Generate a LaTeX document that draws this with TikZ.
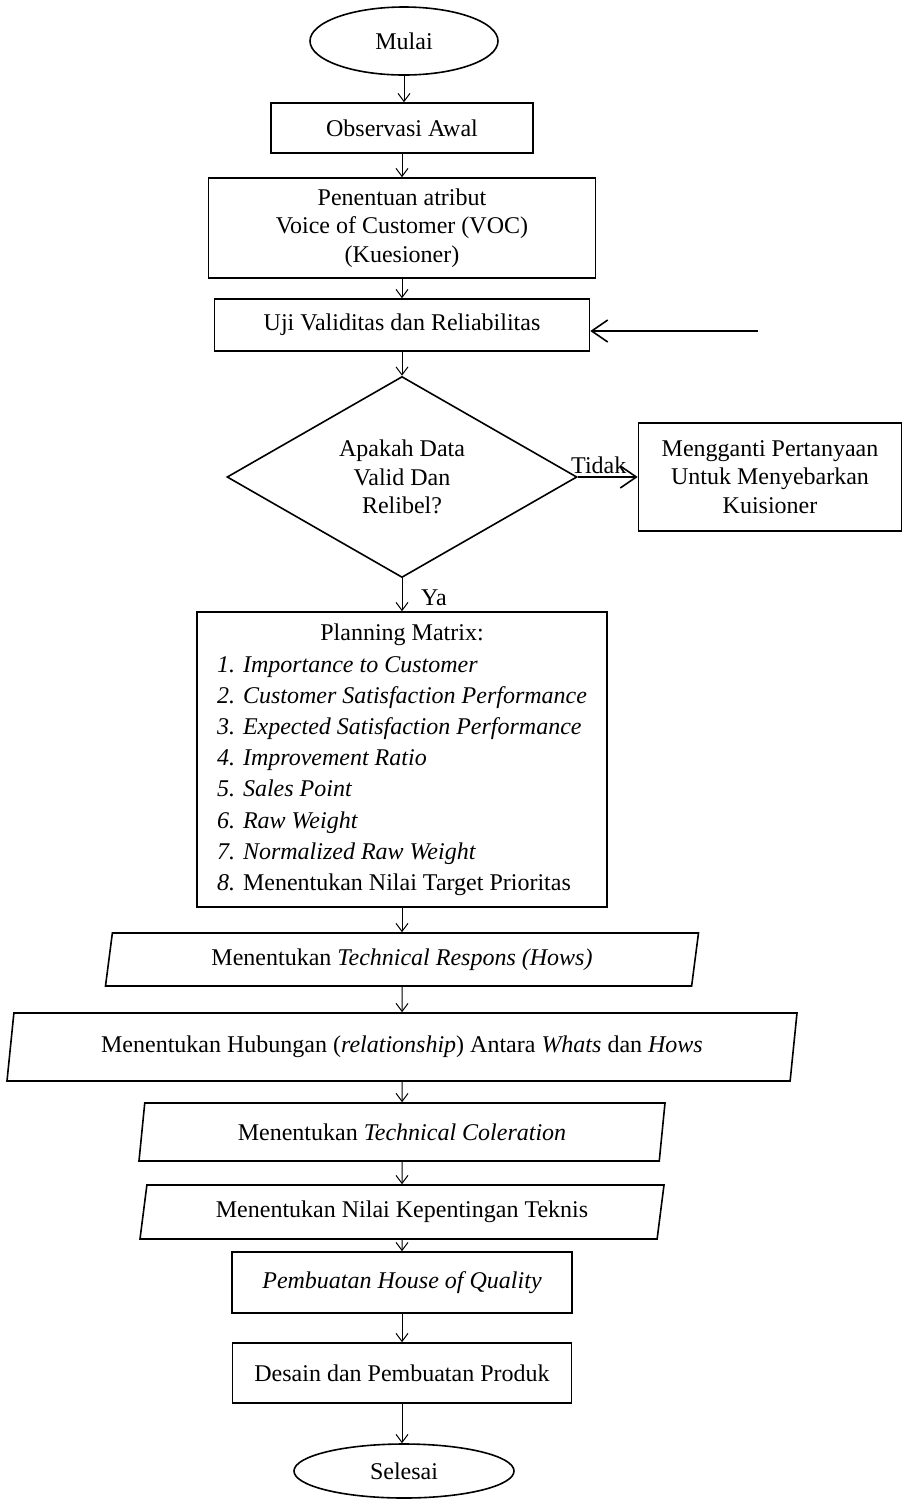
\documentclass[tikz,border=0pt]{standalone}
\usepackage{fontspec}
\setmainfont{Liberation Serif}
\usetikzlibrary{shapes.geometric, arrows.meta}

\begin{document}
\begin{tikzpicture}[x=0.5pt, y=-0.5pt,
    font=\fontsize{12}{14.25}\selectfont,
    box/.style={draw, line width=0.8pt, rectangle, align=center, inner sep=2pt},
    term/.style={draw, line width=0.8pt, ellipse, inner sep=0pt},
    io/.style={draw, line width=0.8pt, trapezium, trapezium left angle=77, trapezium right angle=103, trapezium stretches body, inner sep=2pt},
    decision/.style={draw, line width=0.8pt, diamond, align=center, inner sep=0pt},
    flow/.style={-{Straight Barb[length=4pt, width=6pt]}, line width=0.5pt},
    side/.style={-{Straight Barb[length=8pt, width=11pt]}, line width=0.8pt}]

    \useasboundingbox (0,0) rectangle (903,1501);

    \node[term, minimum width=94pt, minimum height=34pt] (mulai) at (404,41) {Mulai};
    \node[box, minimum width=131pt, minimum height=25pt] (obs) at (402,128) {Observasi Awal};
    \node[box, minimum width=193.5pt, minimum height=50pt] (voc) at (402,228)
        {Penentuan atribut\\ Voice of Customer (VOC)\\ (Kuesioner)};
    \node[box, minimum width=187.5pt, minimum height=26pt] (uji) at (402,325) {Uji Validitas dan Reliabilitas};
    \coordinate (ulang) at (758,331);

    \node[decision, minimum width=175pt, minimum height=100.5pt] (valid) at (402,477)
        {Apakah Data\\ Valid Dan\\ Relibel?};
    \node[box, minimum width=131.5pt, minimum height=54pt] (ganti) at (770,477)
        {Mengganti Pertanyaan\\ Untuk Menyebarkan\\ Kuisioner};

    \node[box, minimum width=205pt, minimum height=147.5pt, font=\fontsize{12}{15.6}\selectfont] (plan) at (402,759.5)
        {\begin{tabular}{@{}l@{}}
            \multicolumn{1}{c}{Planning Matrix:}\\
            \textit{1. Importance to Customer}\\
            \textit{2. Customer Satisfaction Performance}\\
            \textit{3. Expected Satisfaction Performance}\\
            \textit{4. Improvement Ratio}\\
            \textit{5. Sales Point}\\
            \textit{6. Raw Weight}\\
            \textit{7. Normalized Raw Weight}\\
            \textit{8.} Menentukan Nilai Target Prioritas
        \end{tabular}};

    \node[io, minimum width=296.5pt, minimum height=26.5pt] (hows) at (402,959.5)
        {Menentukan \textit{Technical Respons (Hows)}};
    \node[io, minimum width=395pt, minimum height=34pt] (rel) at (402,1047)
        {Menentukan Hubungan (\textit{relationship}) Antara \textit{Whats} dan \textit{Hows}};
    \node[io, minimum width=263pt, minimum height=29pt] (kor) at (402,1132)
        {Menentukan \textit{Technical Coleration}};
    \node[io, minimum width=262pt, minimum height=27pt] (bobot) at (402,1212)
        {Menentukan Nilai Kepentingan Teknis};

    \node[box, minimum width=170pt, minimum height=30.5pt] (hoq) at (402,1282.5) {\textit{Pembuatan House of Quality}};
    \node[box, minimum width=169.5pt, minimum height=30pt] (produk) at (402,1373) {Desain dan Pembuatan Produk};
    \node[term, minimum width=110pt, minimum height=27pt] (selesai) at (404,1471) {Selesai};

    \draw[flow] (mulai.south) -- (mulai.south |- obs.north);
    \draw[flow] (obs) -- (voc);
    \draw[flow] (voc) -- (uji);
    \draw[flow] (uji) -- (valid);
    \draw[side] (ulang) -- (ulang -| uji.east);
    \draw[side] (valid) -- node[above, pos=0.35, inner sep=1pt] {Tidak} (ganti);
    \draw[flow] (valid) -- node[right=6pt, pos=0.6] {Ya} (plan);
    \draw[flow] (plan) -- (hows);
    \draw[flow] (hows) -- (rel);
    \draw[flow] (rel) -- (kor);
    \draw[flow] (kor) -- (bobot);
    \draw[flow] (bobot) -- (hoq);
    \draw[flow] (hoq) -- (produk);
    \draw[flow] (produk.south) -- (produk.south |- selesai.north);
\end{tikzpicture}
\end{document}
